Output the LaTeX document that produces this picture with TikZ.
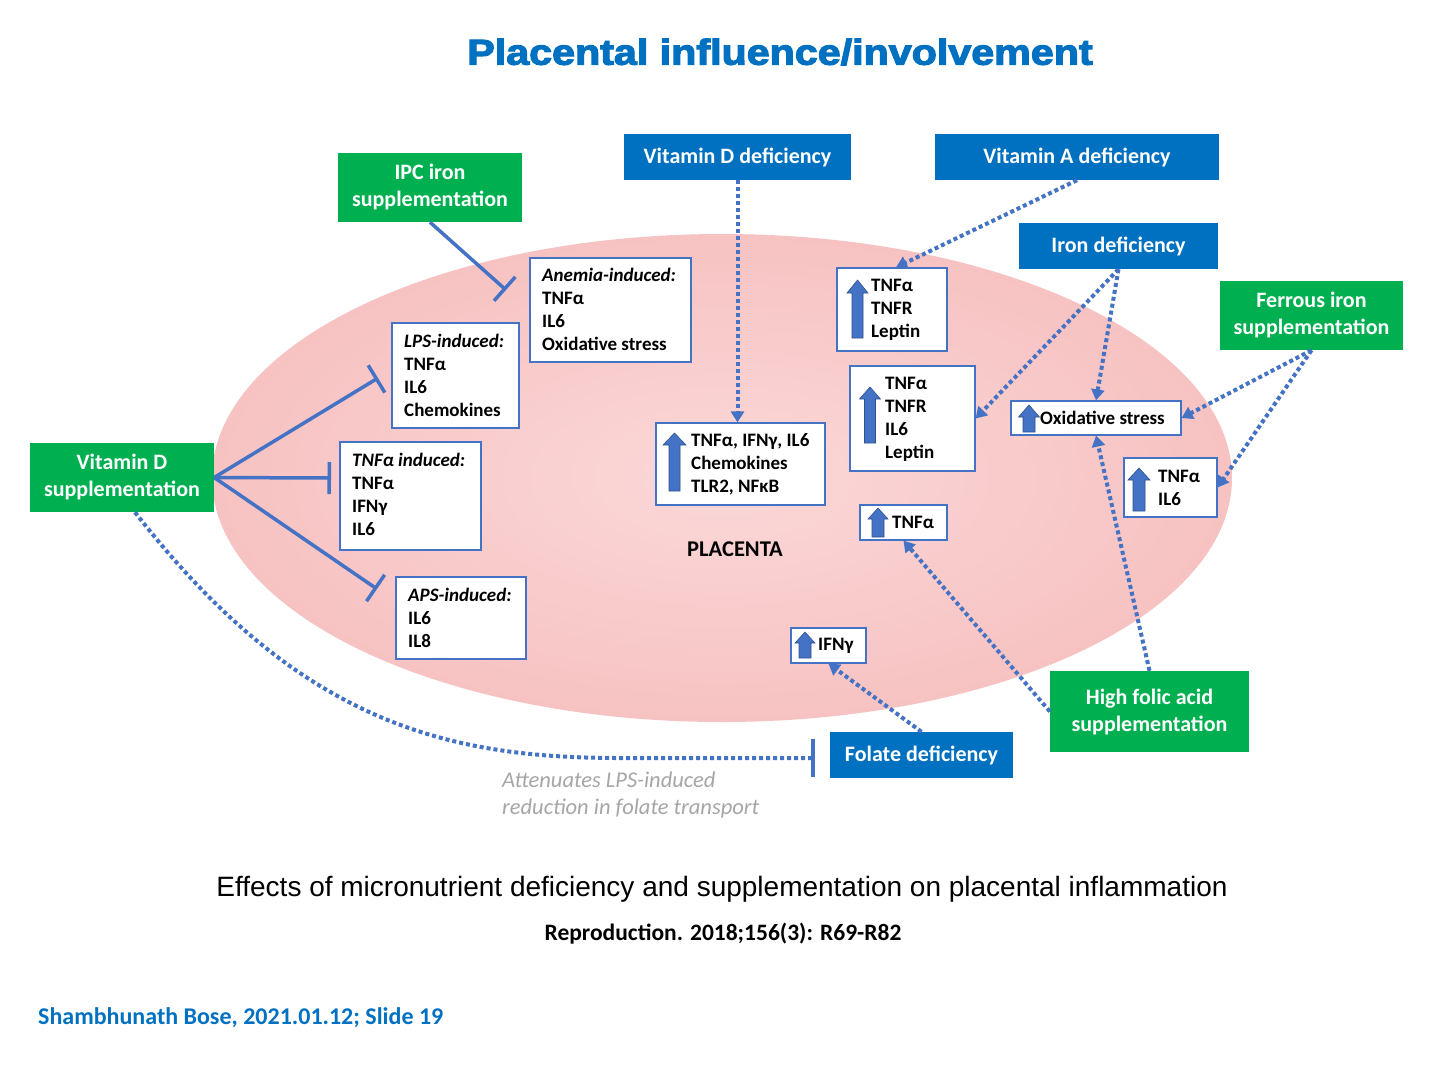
\documentclass[tikz,border=0pt]{standalone}
\usepackage{fontspec}
\setmainfont{Carlito}
\newfontfamily\arialf{Liberation Sans}
\newfontfamily\titlef{Liberation Sans}[BoldFeatures={FakeBold=3}]
\usetikzlibrary{arrows.meta,calc,fit}
\definecolor{hblue}{RGB}{0,112,192}
\definecolor{hgreen}{RGB}{0,176,80}
\definecolor{conn}{RGB}{68,114,196}
\definecolor{arrfillc}{RGB}{68,114,196}
\definecolor{arredge}{RGB}{47,82,143}
\definecolor{grayt}{RGB}{166,166,166}
\definecolor{pinkin}{RGB}{251,216,216}
\definecolor{pinkout}{RGB}{247,194,194}
\newcommand\uparr[6]{%
 \filldraw[arr] ({#1-#5/2},#3) -- ({#1-#5/2},{#2+#6}) -- ({#1-#4/2},{#2+#6}) -- (#1,#2) -- ({#1+#4/2},{#2+#6}) -- ({#1+#5/2},{#2+#6}) -- ({#1+#5/2},#3) -- cycle;}
\begin{document}
\begin{tikzpicture}[x=1pt,y=-1pt,
 hdr/.style={text=white, font=\bfseries\fontsize{22}{27}\selectfont, align=center, inner sep=0pt},
 bluebox/.style={hdr, fill=hblue},
 greenbox/.style={hdr, fill=hgreen},
 wbox/.style={draw=conn, line width=1.2pt, fill=white, inner sep=0pt},
 wtext/.style={anchor=west, font=\bfseries\fontsize{19}{23}\selectfont, align=left, inner sep=0pt},
 inhib/.style={draw=conn, line width=3.5pt, -{Bar[width=32pt,line width=3.5pt]}},
 dotc/.style={draw=conn, line width=4pt, dash pattern=on 4pt off 3pt, -{Triangle[length=11pt,width=13pt]}},
 dotbar/.style={draw=conn, line width=4pt, dash pattern=on 4pt off 3pt, -{Bar[width=38pt,line width=3.5pt]}},
 arr/.style={fill=arrfillc, draw=arredge, line width=0.6pt},
]
\fill[white] (0,0) rectangle (1440,1080);
\useasboundingbox (0,0) rectangle (1440,1080);

% placenta ellipse
\shade[inner color=pinkin, outer color=pinkout] (722,478) ellipse [x radius=510, y radius=244];
\node[font=\bfseries\fontsize{22.5}{26}\selectfont] (plac) at (735,549) {PLACENTA};

% title
\node[font=\titlef\bfseries\fontsize{36}{40}\selectfont, text=hblue] (title) at (780,52) {\scalebox{1.145}[1]{Placental influence/involvement}};

% header boxes
\node[greenbox, minimum width=184pt, minimum height=69pt] (ipc) at (430,187.5) {IPC iron\\supplementation};
\node[bluebox, minimum width=227pt, minimum height=46pt] (vdd) at (737.5,157) {Vitamin D deficiency};
\node[bluebox, minimum width=284pt, minimum height=46pt] (vad) at (1077,157) {Vitamin A deficiency};
\node[bluebox, minimum width=199pt, minimum height=46pt] (ird) at (1118.5,246) {Iron deficiency};
\node[greenbox, minimum width=183pt, minimum height=69pt] (fer) at (1311.5,315.5) {Ferrous iron\\supplementation};
\node[greenbox, minimum width=184pt, minimum height=69pt] (vds) at (122,477.5) {Vitamin D\\supplementation};
\node[greenbox, minimum width=199pt, minimum height=81pt] (hfa) at (1149.5,711.5) {High folic acid\\supplementation};
\node[bluebox, minimum width=183pt, minimum height=46pt] (fol) at (921.5,755) {Folate deficiency};

% white boxes
\node[wbox, fit={(530,258) (691,362)}] (anem) {};
\node[wtext] (anemt) at (542,309) {\textit{Anemia-induced:}\\TNFα\\IL6\\Oxidative stress};
\node[wbox, fit={(392,323) (519,428)}] (lps) {};
\node[wtext] (lpst) at (404,375.5) {\textit{LPS-induced:}\\TNFα\\IL6\\Chemokines};
\node[wbox, fit={(340,442) (481,550)}] (tnfi) {};
\node[wtext] (tnfit) at (352,494.5) {\textit{TNFα induced:}\\TNFα\\IFNγ\\IL6};
\node[wbox, fit={(396,577) (526,659)}] (aps) {};
\node[wtext] (apst) at (408,618) {\textit{APS-induced:}\\IL6\\IL8};
\node[wbox, fit={(656,423) (825,505)}] (vdres) {};
\node[wtext] (vdrest) at (691,464) {TNFα, IFNγ, IL6\\Chemokines\\TLR2, NFκB};
\node[wbox, fit={(837,268) (947,351)}] (vares) {};
\node[wtext] (varest) at (871,310) {TNFα\\TNFR\\Leptin};
\node[wbox, fit={(850,366) (975,471)}] (irres) {};
\node[wtext] (irrest) at (885,419) {TNFα\\TNFR\\IL6\\Leptin};
\node[wbox, fit={(1011,401) (1181,435)}] (oxs) {};
\node[wtext] (oxst) at (1040,418) {Oxidative stress};
\node[wbox, fit={(1124,458) (1217,517)}] (tnil) {};
\node[wtext] (tnilt) at (1158,488) {TNFα\\IL6};
\node[wbox, fit={(860,505) (947,540)}] (tnsm) {};
\node[wtext] (tnsmt) at (892,522) {TNFα};
\node[wbox, fit={(791,628) (866,663)}] (ifng) {};
\node[wtext] (ifngt) at (818,646) {IFNγ};

% up arrows inside boxes
\uparr{674.5}{433}{491}{23}{11}{12}
\uparr{857.5}{280}{338}{21}{11}{13}
\uparr{870}{387}{443}{21}{11}{12}
\uparr{1029}{405}{432}{21}{12}{12}
\uparr{1139}{468}{511}{22}{12}{12}
\uparr{878}{508}{537}{20}{12}{11}
\uparr{805}{632}{658}{20}{12}{11}

% inhibition connectors
\coordinate (ipcE) at (506,290);
\coordinate (lpsE) at (378,378);
\coordinate (tnfE) at (331,478);
\coordinate (apsE) at (377,589);
\draw[inhib] (ipc.south) -- (ipcE);
\draw[inhib] (vds.east) -- (lpsE);
\draw[inhib] (vds.east) -- (tnfE);
\draw[inhib] (vds.east) -- (apsE);

% dotted connectors
\draw[dotc] (vdd.south) -- (vdd.south |- vdres.north);
\draw[dotc] (vad.south) -- ($(vares.north)+(4,0)$);
\draw[dotc] (ird.south) -- (irres.east);
\draw[dotc] (ird.south) -- (oxs.north);
\draw[dotc] (fer.south) -- (oxs.east);
\draw[dotc] (fer.south) -- (tnil.east);
\draw[dotc] (hfa.west) -- (tnsm.south);
\draw[dotc] (hfa.north) -- (oxs.south);
\draw[dotc] (fol.north) -- (ifng.south);
\coordinate (vdsS) at ($(vds.south)+(13,0)$);
\coordinate (folE) at ($(fol.west)+(-15,3)$);
\draw[dotbar] (vdsS) .. controls (300,725) and (450,758) .. (620,758) -- (folE);
\node[anchor=west, align=left, inner sep=0pt, text=grayt, font=\itshape\fontsize{22.5}{27}\selectfont] (att) at (502,794.5) {Attenuates LPS-induced\\reduction in folate transport};

% captions
\node[font=\arialf\fontsize{28}{32}\selectfont] (cap) at (722,889) {Effects of micronutrient deficiency and supplementation on placental inflammation};
\node[font=\bfseries\fontsize{23.5}{26}\selectfont] (ref) at (723,934) {Reproduction. 2018;156(3): R69-R82};
\node[anchor=west, inner sep=0pt, font=\bfseries\fontsize{24}{26}\selectfont, text=hblue] (foot) at (38,1018) {Shambhunath Bose, 2021.01.12; Slide 19};
\end{tikzpicture}
\end{document}
